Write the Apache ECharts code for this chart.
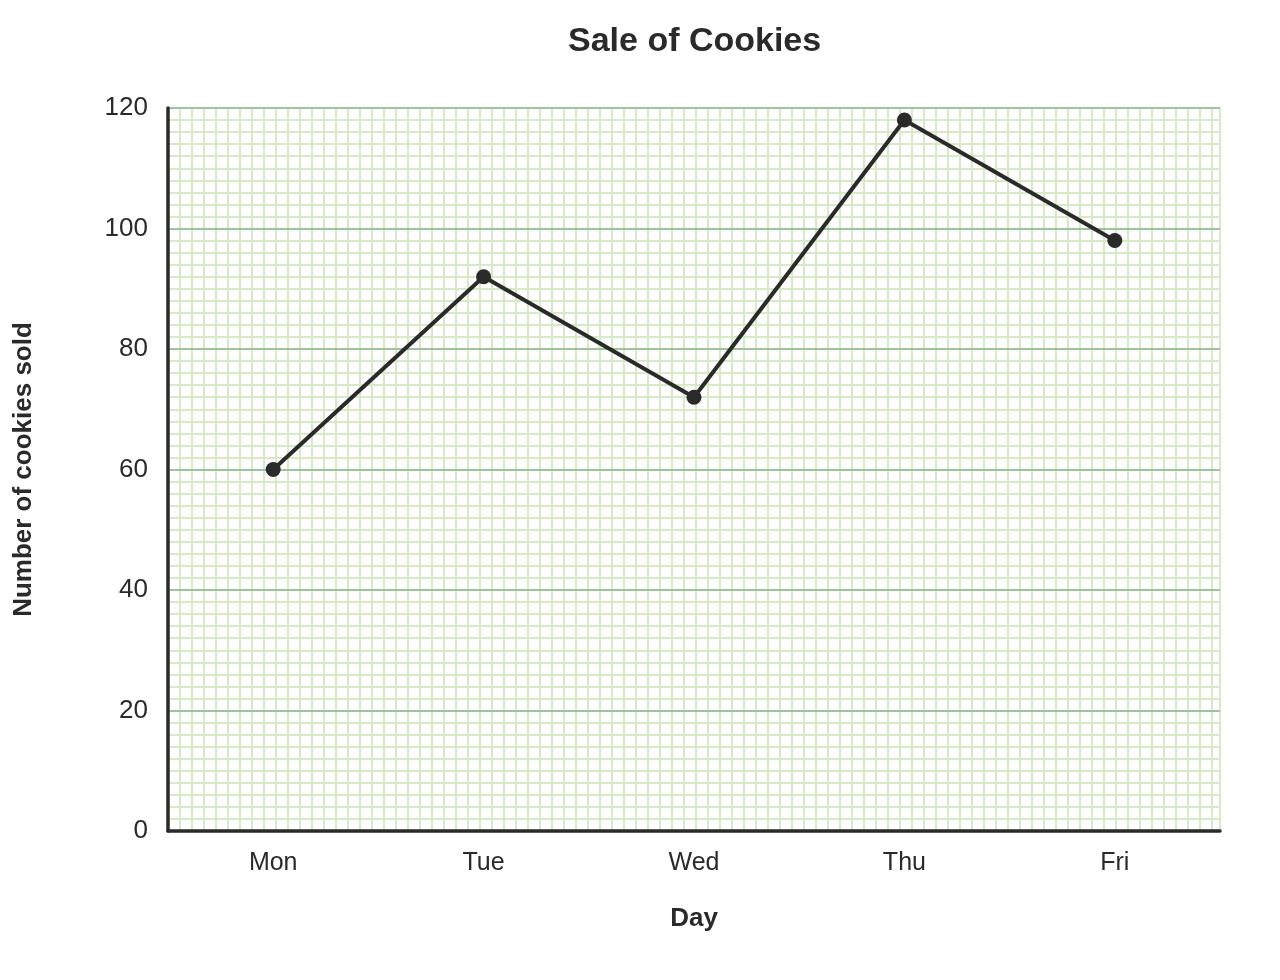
<!DOCTYPE html>
<html><head><meta charset="utf-8">
<script src="https://cdn.jsdelivr.net/npm/echarts@6/dist/echarts.min.js"></script>
<style>html,body{margin:0;padding:0;background:#fff}#c{width:1280px;height:980px}</style>
</head><body><div id="c"></div>
<script>
const days = ['Mon','Tue','Wed','Thu','Fri'];
const cookies = [60, 92, 72, 118, 98];
const yTicks = [0,20,40,60,80,100,120];

const chart = echarts.init(document.getElementById('c'), null, {renderer:'canvas'});
const font = 'Liberation Sans, Arial, sans-serif';
chart.setOption({
  animation:false,
  title:{text:'Sale of Cookies', left:563, top:20, textStyle:{fontFamily:font, fontSize:34, fontWeight:'bold', color:'#2a2a2a'}},
  grid:{left:168, right:60, top:108, bottom:149, containLabel:false},
  xAxis:[{
    type:'category', data:days, boundaryGap:true,
    name:'Day', nameLocation:'middle', nameGap:75,
    nameTextStyle:{fontFamily:font, fontSize:26, fontWeight:'bold', color:'#2a2a2a'},
    axisLine:{lineStyle:{color:'#2a2a2a', width:3.5}},
    axisTick:{show:false},
    axisLabel:{fontFamily:font, fontSize:25, color:'#2a2a2a', margin:20},
    splitLine:{show:false}, z:5
  },{
    type:'value', min:0, max:87.67, interval:1, position:'bottom',
    axisLine:{show:false}, axisTick:{show:false}, axisLabel:{show:false},
    splitLine:{show:true, lineStyle:{color:'#d6eac8', width:2}}
  }],
  yAxis:{
    type:'value', min:0, max:120, interval:20,
    name:'Number of cookies sold', nameLocation:'middle', nameGap:131,
    nameTextStyle:{fontFamily:font, fontSize:26, fontWeight:'bold', color:'#2a2a2a'},
    axisLine:{show:true, lineStyle:{color:'#2a2a2a', width:3.5}},
    axisTick:{show:false},
    axisLabel:{fontFamily:font, fontSize:26, color:'#2a2a2a', margin:20},
    splitLine:{show:true, lineStyle:{color:'#9ec49e', width:2}},
    minorTick:{show:false, splitNumber:10},
    minorSplitLine:{show:true, lineStyle:{color:'#d6eac8', width:2}},
    z:5
  },
  series:[{
    type:'line', data:cookies, xAxisIndex:0,
    symbol:'circle', symbolSize:15,
    lineStyle:{color:'#2a2a2a', width:4},
    itemStyle:{color:'#2a2a2a'}, z:10
  }]
});
</script></body></html>
